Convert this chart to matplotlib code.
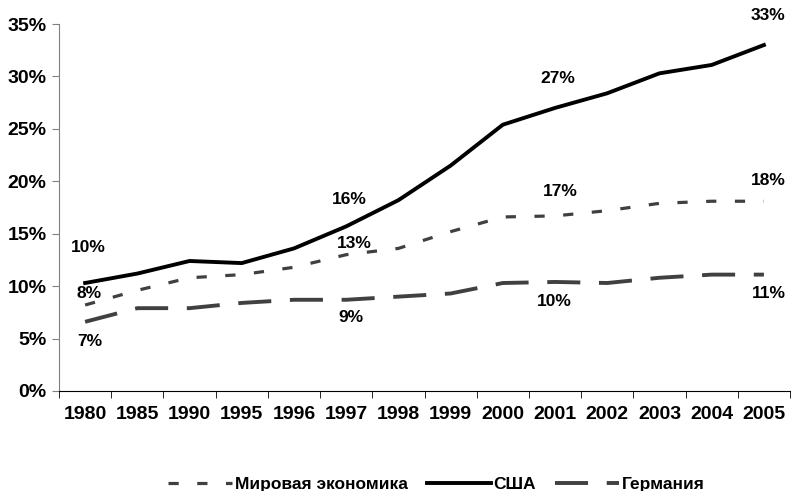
import numpy as np
import matplotlib.pyplot as plt
from matplotlib.ticker import FixedLocator

plt.rcParams['font.family'] = ['Liberation Sans', 'DejaVu Sans']
plt.rcParams['font.weight'] = 'bold'

years = ['1980', '1985', '1990', '1995', '1996', '1997', '1998', '1999',
         '2000', '2001', '2002', '2003', '2004', '2005']
world = [8.2, 9.6, 10.8, 11.1, 11.8, 13.0, 13.6, 15.2, 16.6, 16.7, 17.2, 17.9, 18.1, 18.1]
usa = [10.3, 11.2, 12.4, 12.2, 13.6, 15.7, 18.2, 21.5, 25.4, 27.0, 28.4, 30.3, 31.1, 33.0]
germany = [6.6, 7.9, 7.9, 8.4, 8.7, 8.7, 9.0, 9.3, 10.3, 10.4, 10.3, 10.8, 11.1, 11.1]

# labels: (series, index, text, dx, dy) offsets in pixels
labels = [
    (usa, 0, '10%', 3, 36), (world, 0, '8%', 4, 12), (germany, 0, '7%', 5, -20),
    (usa, 5, '16%', 3, 27), (world, 5, '13%', 8, 11), (germany, 5, '9%', 5, -18),
    (usa, 9, '27%', 3, 29), (world, 9, '17%', 5, 24), (germany, 9, '10%', -1, -20),
    (usa, 13, '33%', 4, 30), (world, 13, '18%', 4, 21), (germany, 13, '11%', 5, -19),
]

fig = plt.figure(figsize=(7.92, 4.91), dpi=100)
ax = fig.add_axes([0.0745, 0.2037, 0.923, 0.7473])

x = np.arange(len(years))
ax.plot(x, world, color='#404040', lw=2.3, dashes=(3.2, 5.8), label='Мировая экономика')
ax.plot(x, usa, color='black', lw=2.8, label='США')
ax.plot(x, germany, color='#404040', lw=2.8, dashes=(8.5, 4.8), label='Германия')

for s, i, t, dx, dy in labels:
    ax.annotate(t, (x[i], s[i]), xytext=(dx, dy), textcoords='offset pixels',
                ha='center', va='center', fontsize=12.5, fontweight='bold')

ax.set_xlim(-0.5, len(years) - 0.5)
ax.set_ylim(0, 35)
ax.set_yticks(range(0, 36, 5))
ax.set_yticklabels([f'{v}%' for v in range(0, 36, 5)], fontsize=14)
ax.set_xticks(x)
ax.set_xticklabels(years, fontsize=14)
ax.tick_params(axis='x', which='major', length=0, pad=11)
ax.xaxis.set_minor_locator(FixedLocator(np.arange(-0.5, len(years), 1)))
ax.tick_params(axis='x', which='minor', length=5, color='black')
ax.tick_params(axis='y', length=5, color='#808080', pad=4)
ax.spines['top'].set_visible(False)
ax.spines['right'].set_visible(False)
ax.spines['left'].set_color('#808080')
ax.spines['bottom'].set_color('black')

fig.legend(loc='lower center', bbox_to_anchor=(0.551, -0.034), ncol=3, frameon=False,
           fontsize=12.5, handlelength=3.7, columnspacing=1.1, handletextpad=0.15)

fig.savefig('out.png', dpi=100)
